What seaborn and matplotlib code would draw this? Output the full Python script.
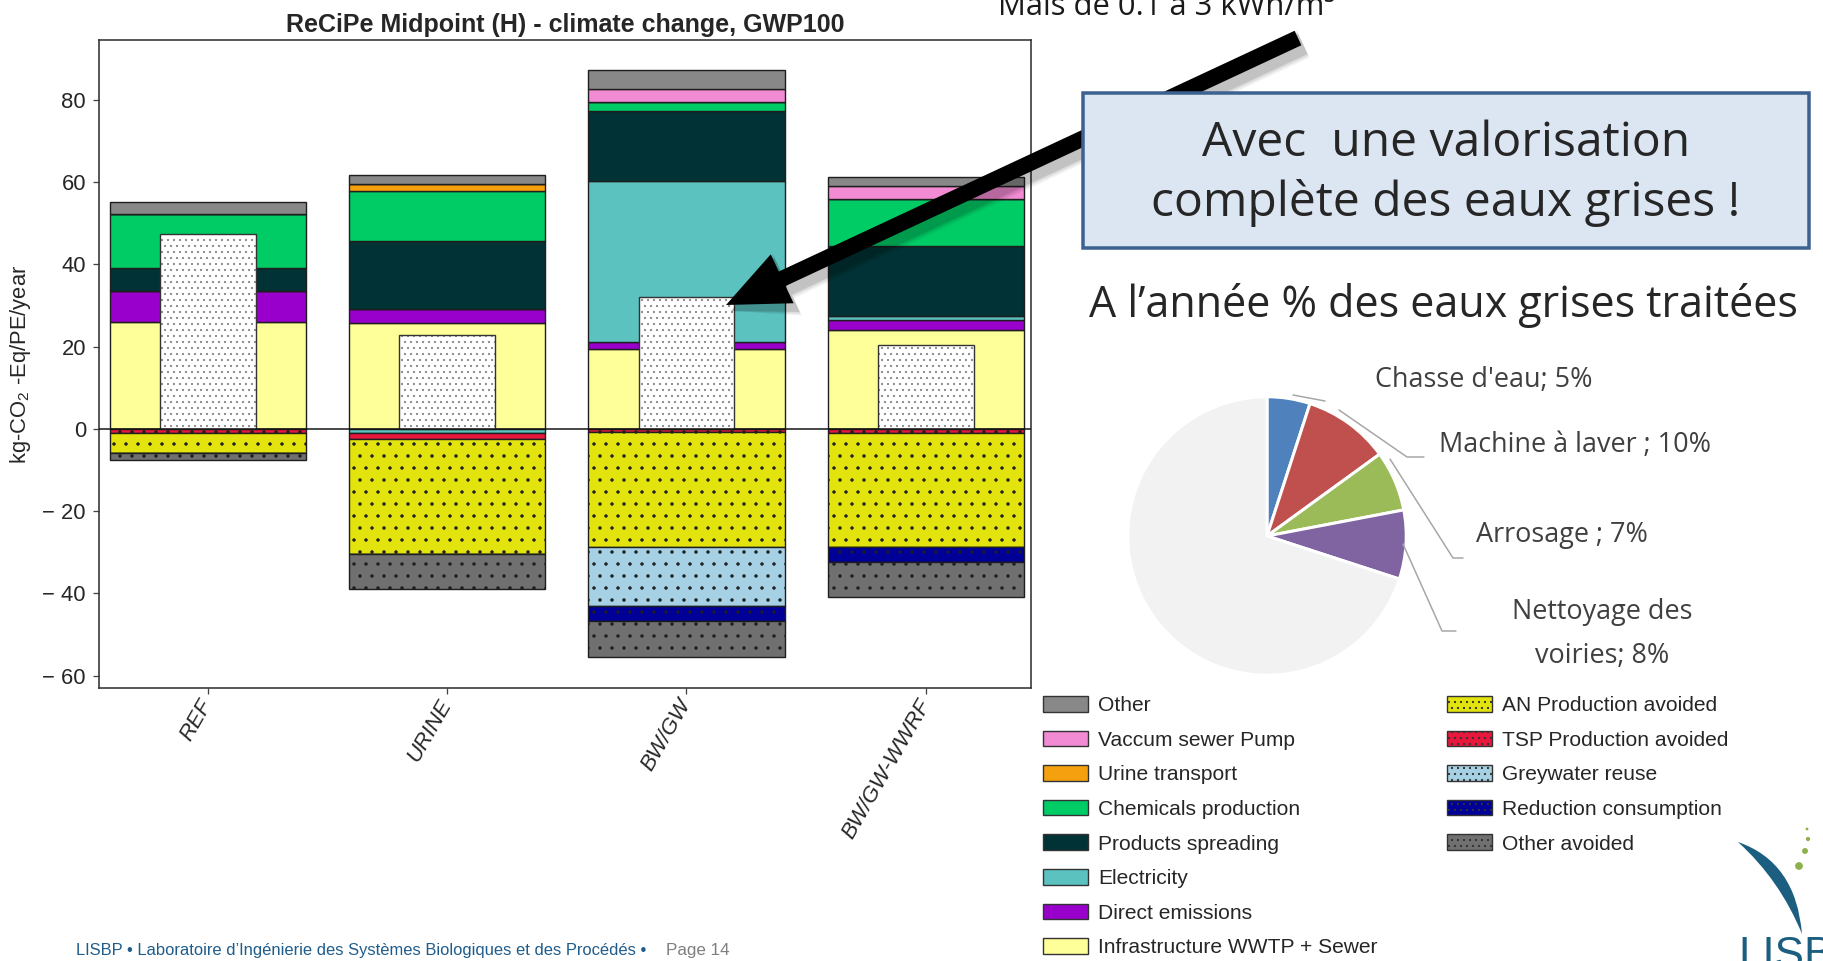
"""Stacked GWP100 contributions per sanitation scenario + greywater pie (slide 14)"""

import matplotlib

matplotlib.use("Agg")
import matplotlib.pyplot as plt
import numpy as np
import seaborn as sns
from matplotlib.patches import Patch, Rectangle, FancyArrow, PathPatch
from matplotlib.path import Path
from matplotlib.ticker import FuncFormatter

# ---------------------------------------------------------------- data
scenarios = ["REF", "URINE", "BW/GW", "BW/GW-WWRF"]

# burdens, stacked from 0 upwards (kg CO2-eq/PE/year)
infrastructure = [26.0, 25.6, 19.5, 24.1]
direct_emissions = [7.5, 3.6, 1.6, 2.4]
electricity = [0.0, 0.0, 39.1, 0.8]
products_spreading = [5.6, 16.4, 17.0, 17.2]
chemicals = [13.1, 12.2, 2.2, 11.3]
urine_transport = [0.0, 1.7, 0.0, 0.0]
vacuum_pump = [0.0, 0.0, 3.2, 3.2]
other = [3.0, 2.2, 4.7, 2.2]

# avoided burdens, stacked from 0 downwards
electricity_avoided = [0.0, -0.9, 0.0, 0.0]
tsp_avoided = [-1.0, -1.6, -0.8, -1.1]
an_avoided = [-5.0, -27.9, -28.0, -27.7]
greywater_reuse = [0.0, 0.0, -14.3, 0.0]
reduction_consumption = [0.0, 0.0, -3.7, -3.6]
other_avoided = [-1.7, -8.5, -8.6, -8.6]

# net result drawn as the narrow dotted bar
net_total = [47.4, 22.9, 32.0, 20.3]

pie_labels = ["Chasse d'eau; 5%", "Machine à laver ; 10%", "Arrosage ; 7%", "Nettoyage des\nvoiries; 8%"]
pie_shares = [5, 10, 7, 8, 70]
pie_colors = ["#4f81bd", "#c0504d", "#9bbb59", "#8064a2", "#f2f2f2"]

# ---------------------------------------------------------------- style
W, H, DPI = 1823, 961, 72
sns.set_theme(style="ticks")
plt.rcParams["font.family"] = ["Liberation Sans", "DejaVu Sans"]
plt.rcParams["mathtext.fontset"] = "custom"
plt.rcParams["mathtext.rm"] = "Liberation Sans"
plt.rcParams["hatch.linewidth"] = 1.0
SLIDE_FONT = ["Open Sans", "DejaVu Sans"]
EDGE = "#1e1e1e"

positive_layers = [
    ("Infrastructure WWTP + Sewer", infrastructure, "#ffff99"),
    ("Direct emissions", direct_emissions, "#9900cc"),
    ("Electricity", electricity, "#5bc2c0"),
    ("Products spreading", products_spreading, "#013235"),
    ("Chemicals production", chemicals, "#00cc66"),
    ("Urine transport", urine_transport, "#f5a00f"),
    ("Vaccum sewer Pump", vacuum_pump, "#f28bd3"),
    ("Other", other, "#888888"),
]
negative_layers = [
    ("Electricity", electricity_avoided, "#5bc2c0", None),
    ("TSP Production avoided", tsp_avoided, "#e8173c", "."),
    ("AN Production avoided", an_avoided, "#e3e30e", "."),
    ("Greywater reuse", greywater_reuse, "#a6d0e4", "."),
    ("Reduction consumption", reduction_consumption, "#000099", "."),
    ("Other avoided", other_avoided, "#707070", "."),
]

fig = plt.figure(figsize=(W / DPI, H / DPI), dpi=DPI)
fig.patch.set_facecolor("white")


def fx(px):
    return px / W


def fy(px):
    return 1 - px / H


# ---------------------------------------------------------------- stacked bars
ax = fig.add_axes([fx(99), fy(688), fx(1031 - 99), (688 - 40) / H])

base = np.zeros(len(scenarios))
for name, vals, color in positive_layers:
    sns.barplot(x=scenarios, y=vals, bottom=base, color=color, saturation=1,
                width=0.82, edgecolor=EDGE, linewidth=1.4, errorbar=None, ax=ax)
    base = base + np.array(vals)

base = np.zeros(len(scenarios))
for name, vals, color, hatch in negative_layers:
    sns.barplot(x=scenarios, y=vals, bottom=base, color=color, saturation=1,
                width=0.82, edgecolor=EDGE, linewidth=1.4, hatch=hatch,
                errorbar=None, ax=ax)
    base = base + np.array(vals)

# net bar: white with fine grey dots, then a dark outline on top
sns.barplot(x=scenarios, y=net_total, color="white", saturation=1, width=0.40,
            edgecolor="#8a8a8a", linewidth=0, hatch="..", errorbar=None, ax=ax)
sns.barplot(x=scenarios, y=net_total, color="#333333", fill=False, width=0.40,
            linewidth=1.4, errorbar=None, ax=ax)

ax.axhline(0, color="#111111", lw=1.5, zorder=5)
ax.set_xlim(-0.455, 3.44)
ax.set_ylim(-63.0, 94.5)
ax.set_yticks([-60, -40, -20, 0, 20, 40, 60, 80])
ax.yaxis.set_major_formatter(FuncFormatter(
    lambda v, _: f"\u2212 {abs(v):.0f}" if v < 0 else f"{v:.0f}"))
ax.tick_params(axis="both", direction="out", length=6, width=1.3, color="#444444",
               labelsize=22, pad=7)
ax.set_xticks(range(len(scenarios)))
ax.set_xticklabels(scenarios, rotation=60, ha="right", va="center",
                   rotation_mode="anchor", fontstyle="italic", fontsize=22)
for sp in ax.spines.values():
    sp.set_visible(True)
    sp.set_color("#333333")
    sp.set_linewidth(1.6)
ax.set_xlabel("")
ax.set_ylabel(r"kg-CO$_\mathregular{2}$ -Eq/PE/year", fontsize=22)
ax.yaxis.set_label_coords(-0.071, 0.5)
ax.set_title("ReCiPe Midpoint (H) - climate change, GWP100", fontsize=25,
             fontweight="bold", pad=8)

# ---------------------------------------------------------------- legend
left_entries = [(n, c, None) for n, _, c in positive_layers[::-1]]
right_entries = [(n, c, h) for n, _, c, h in negative_layers[1:][::-1]]
right_entries = [right_entries[i] for i in (3, 4, 2, 1, 0)]


def make_handles(entries):
    return [Patch(facecolor=c, edgecolor="#333333", linewidth=1.4,
                  hatch=(".." if h else None), label=n) for n, c, h in entries]


leg_kw = dict(frameon=False, fontsize=21, handlelength=2.14, handleheight=0.76,
              handletextpad=0.5, labelspacing=0.74, borderpad=0, borderaxespad=0,
              loc="upper left", bbox_transform=fig.transFigure)
fig.legend(handles=make_handles(left_entries), bbox_to_anchor=(fx(1043), fy(696)), **leg_kw)
fig.legend(handles=make_handles(right_entries), bbox_to_anchor=(fx(1447), fy(696)), **leg_kw)

# ---------------------------------------------------------------- pie
pie_ax = fig.add_axes([fx(1125), fy(536 + 142), fx(284), 284 / H])
pie_ax.pie(pie_shares, colors=pie_colors, startangle=90, counterclock=False,
           wedgeprops=dict(edgecolor="white", linewidth=3))
pie_ax.set_xlim(-1.02, 1.02)
pie_ax.set_ylim(-1.02, 1.02)
pie_ax.set_aspect("auto")

# ---------------------------------------------------------------- slide overlay
ov = fig.add_axes([0, 0, 1, 1], zorder=10)
ov.set_xlim(0, W)
ov.set_ylim(H, 0)
ov.axis("off")

ov.text(998, 15, "Mais de 0.1 à 3 kWh/m³", fontsize=31, family=SLIDE_FONT,
        color="#1a1a1a", ha="left", va="baseline", clip_on=False)

# arrow with a soft shadow
tail, tip = (1298, 38), (726, 305)
for k, a in ((14, 0.06), (10, 0.08), (6, 0.12)):
    ov.add_patch(FancyArrow(tail[0] + 5, tail[1] + 6, tip[0] - tail[0], tip[1] - tail[1],
                            width=16 + k, head_width=54 + k, head_length=62,
                            length_includes_head=True, color="black", alpha=a,
                            lw=0, zorder=1))
ov.add_patch(FancyArrow(tail[0], tail[1], tip[0] - tail[0], tip[1] - tail[1],
                        width=16, head_width=54, head_length=62,
                        length_includes_head=True, color="black", lw=0, zorder=2))

ov.add_patch(Rectangle((1083, 93), 726, 155, facecolor="#dce6f2",
                       edgecolor="#3d6190", lw=3.5, zorder=3))
ov.text(1446, 143, "Avec  une valorisation", fontsize=48, family=SLIDE_FONT,
        ha="center", va="center", zorder=4)
ov.text(1446, 203, "complète des eaux grises !", fontsize=48, family=SLIDE_FONT,
        ha="center", va="center", zorder=4)

ov.text(1089, 306, "A l’année % des eaux grises traitées", fontsize=43,
        family=SLIDE_FONT, ha="left", va="center")

# pie labels with leader lines
leaders = [
    [(1293, 395), (1325, 401)],
    [(1339, 410), (1407, 457), (1424, 457)],
    [(1390, 459), (1453, 558), (1463, 558)],
    [(1403, 544), (1442, 631), (1456, 631)],
]
label_pos = [(1375, 380, "left"), (1439, 445, "left"), (1476, 535, "left"), (1602, 634, "center")]
for pts, (lx, ly, ha), text in zip(leaders, label_pos, pie_labels):
    xs, ys = zip(*pts)
    ov.plot(xs, ys, color="#a6a6a6", lw=1.5)
    ov.text(lx, ly, text, fontsize=27, family=SLIDE_FONT, color="#404040",
            ha=ha, va="center", multialignment="center", linespacing=1.75)

# footer
ov.text(76, 951, "LISBP • Laboratoire d’Ingénierie des Systèmes Biologiques et des Procédés •",
        fontsize=16.5, color="#1f5c8b", ha="left", va="center")
ov.text(666, 951, "Page 14", fontsize=17, color="#7f7f7f", ha="left", va="center")

# logo
swoosh = Path([(1738, 842), (1796, 862), (1802, 934), (1780, 880), (1738, 842)],
              [Path.MOVETO, Path.CURVE3, Path.CURVE3, Path.CURVE3, Path.CURVE3])
ov.add_patch(PathPatch(swoosh, facecolor="#1b5e80", edgecolor="none"))
ov.scatter([1799, 1805, 1808, 1807], [866, 851, 839, 829], s=[60, 35, 18, 8],
           color="#8db04a", lw=0)
ov.text(1738, 968, "LISBP", fontsize=44, color="#1b5e80", ha="left",
        va="baseline", clip_on=False)

fig.savefig("out.png", dpi=DPI)
plt.close(fig)
